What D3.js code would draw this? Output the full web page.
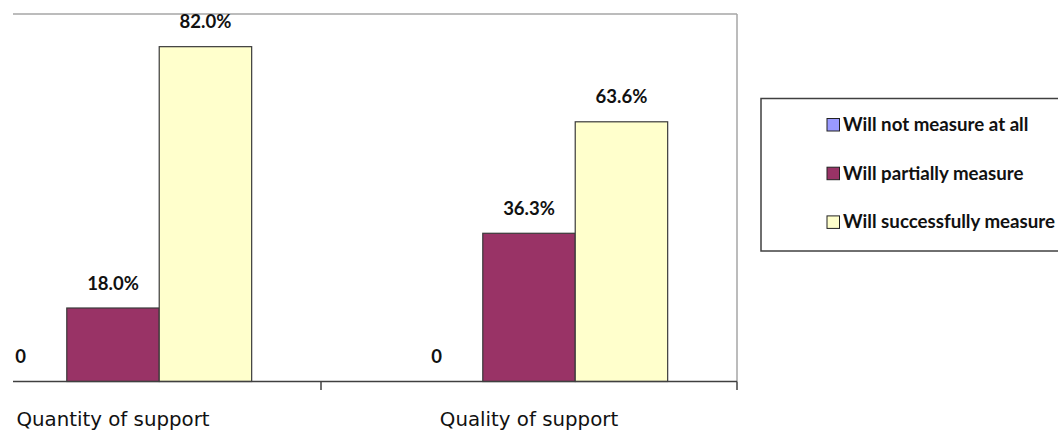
<!DOCTYPE html>
<html>
<head>
<meta charset="utf-8">
<script src="https://cdn.jsdelivr.net/npm/d3@7/dist/d3.min.js"></script>
<style>
  html, body { margin: 0; padding: 0; background: #fff; overflow: hidden; }
  svg { display: block; }
</style>
</head>
<body>
<svg id="chart" width="1058" height="432"></svg>
<script>
// Categories, series and values
const categories = ["Quantity of support", "Quality of support"];
const seriesNames = ["Will not measure at all", "Will partially measure", "Will successfully measure"];
const seriesColors = ["#9999FF", "#993366", "#FFFFCC"];
const notMeasure = [0, 0];
const partiallyMeasure = [18.0, 36.3];
const successfullyMeasure = [82.0, 63.6];
const seriesValues = [notMeasure, partiallyMeasure, successfullyMeasure];

const svg = d3.select("#chart");

// Plot frame (the category bands extend past the visible left edge)
const plotLeft = 13, plotRight = 737, plotTop = 14, plotBottom = 381.5;

const x0 = d3.scaleBand().domain(categories).range([-95, plotRight]).padding(0);
const x1 = d3.scaleBand().domain(seriesNames).range([0, x0.bandwidth()])
  .paddingInner(0).paddingOuter(0.75);
const y = d3.scaleLinear().domain([0, 90]).range([plotBottom, plotTop]);

// Frame lines: top and right
svg.append("line")
  .attr("x1", plotLeft).attr("x2", plotRight)
  .attr("y1", plotTop).attr("y2", plotTop)
  .attr("stroke", "#a6a6a6").attr("stroke-width", 1.5);
svg.append("line")
  .attr("x1", plotRight).attr("x2", plotRight)
  .attr("y1", plotTop).attr("y2", plotBottom)
  .attr("stroke", "#a6a6a6").attr("stroke-width", 1.5);

// Bars
const rows = [];
categories.forEach((c, ci) => {
  seriesNames.forEach((s, si) => {
    rows.push({ cat: c, series: s, si, value: seriesValues[si][ci] });
  });
});

const barG = svg.append("g");
barG.selectAll("rect")
  .data(rows.filter(d => d.value > 0))
  .join("rect")
  .attr("x", d => x0(d.cat) + x1(d.series))
  .attr("y", d => y(d.value))
  .attr("width", x1.bandwidth())
  .attr("height", d => y(0) - y(d.value))
  .attr("fill", d => seriesColors[d.si])
  .attr("stroke", "#3a3a3a")
  .attr("stroke-width", 1.2);

// Value labels
svg.append("g").selectAll("text")
  .data(rows)
  .join("text")
  .attr("x", d => x0(d.cat) + x1(d.series) + x1.bandwidth() / 2)
  .attr("y", d => y(d.value) - 18.5)
  .attr("text-anchor", "middle")
  .attr("font-family", "Lato, 'Open Sans', sans-serif")
  .attr("font-weight", "bold")
  .attr("font-size", 18.5)
  .attr("fill", "#111")
  .text(d => d.value === 0 ? "0" : d.value.toFixed(1) + "%");

// Category axis
svg.append("line")
  .attr("x1", plotLeft).attr("x2", plotRight)
  .attr("y1", plotBottom).attr("y2", plotBottom)
  .attr("stroke", "#404040").attr("stroke-width", 1.5);

const tickXs = categories.map(c => x0(c)).concat([x0(categories[categories.length - 1]) + x0.bandwidth()])
  .filter(v => v >= plotLeft);
svg.append("g").selectAll("line")
  .data(tickXs)
  .join("line")
  .attr("x1", d => d).attr("x2", d => d)
  .attr("y1", plotBottom).attr("y2", plotBottom + 8.5)
  .attr("stroke", "#404040").attr("stroke-width", 1.5);

svg.append("g").selectAll("text")
  .data(categories)
  .join("text")
  .attr("x", d => x0(d) + x0.bandwidth() / 2)
  .attr("y", 426)
  .attr("text-anchor", "middle")
  .attr("font-family", "'DejaVu Sans', Verdana, sans-serif")
  .attr("font-size", 19.8)
  .attr("fill", "#111")
  .text(d => d);

// Legend (box runs past the right edge)
const legend = svg.append("g");
legend.append("rect")
  .attr("x", 761).attr("y", 98.5)
  .attr("width", 400).attr("height", 152.5)
  .attr("fill", "#fff")
  .attr("stroke", "#404040").attr("stroke-width", 1.5);

const legendRows = legend.selectAll("g.item")
  .data(seriesNames)
  .join("g")
  .attr("class", "item")
  .attr("transform", (d, i) => `translate(827, ${124.5 + i * 48.7})`);

legendRows.append("rect")
  .attr("x", 0).attr("y", -6)
  .attr("width", 12.5).attr("height", 12.5)
  .attr("fill", (d, i) => seriesColors[i])
  .attr("stroke", "#222").attr("stroke-width", 1);

legendRows.append("text")
  .attr("x", 16).attr("y", 6.5)
  .attr("font-family", "Lato, 'Open Sans', sans-serif")
  .attr("font-weight", "bold")
  .attr("font-size", 18.7)
  .attr("fill", "#111")
  .text(d => d);
</script>
</body>
</html>
